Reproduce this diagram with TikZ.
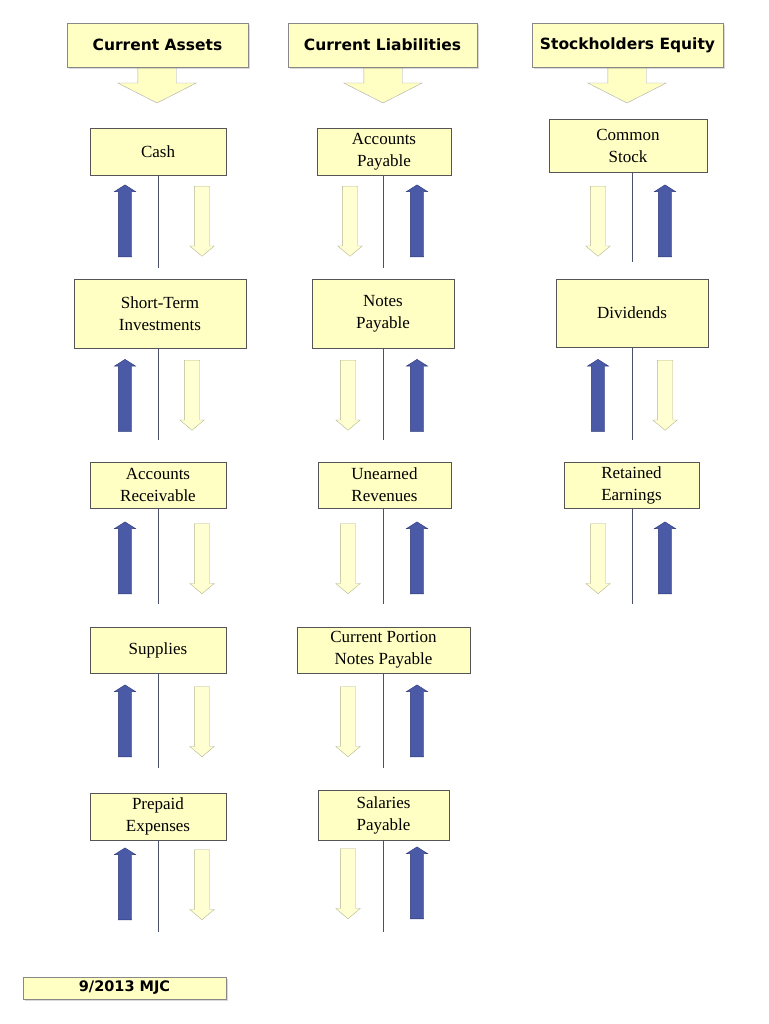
\documentclass[tikz,border=0pt]{standalone}
\usepackage{fontspec}
\setmainfont{Liberation Serif}
\newfontfamily\headfont{DejaVu Sans}
\usetikzlibrary{positioning, shapes.arrows, shadows}

\definecolor{boxfill}{HTML}{FFFFC4}
\definecolor{boxline}{HTML}{555555}
\definecolor{upfill}{HTML}{4A5AA6}
\definecolor{upline}{HTML}{2C3878}
\definecolor{dnfill}{HTML}{FFFFD2}
\definecolor{dnline}{HTML}{B4B48C}
\definecolor{divline}{HTML}{4A5068}

\tikzset{
  acct/.style={draw=boxline, fill=boxfill, align=center, inner sep=0pt,
    font=\fontsize{17}{22}\selectfont},
  head/.style={draw=boxline!70, fill=boxfill, inner sep=0pt,
    font=\headfont\bfseries\fontsize{15.5}{18}\selectfont,
    drop shadow={shadow xshift=2pt, shadow yshift=-2pt, opacity=0.3}},
  headarr/.style={single arrow, draw=boxline!50, fill=boxfill, inner sep=19pt,
    single arrow head extend=20pt, single arrow tip angle=126,
    shape border rotate=270, minimum height=46pt},
  uparr/.style={single arrow, draw=upline, fill=upfill, inner sep=6.5pt,
    single arrow head extend=4pt, single arrow tip angle=115,
    shape border rotate=90, minimum height=72pt},
  dnarr/.style={single arrow, draw=dnline, fill=dnfill, inner sep=7.5pt,
    single arrow head extend=4.5pt, single arrow tip angle=100,
    shape border rotate=270, minimum height=70pt},
  split/.style={draw=divline, line width=0.8pt}
}

\begin{document}
\begin{tikzpicture}[x=1pt, y=-1pt]
\useasboundingbox (0,0) rectangle (768,1024);

% column headings
\node[headarr] (caarr) at (157,74) {};
\node[headarr] (clarr) at (383,74) {};
\node[headarr] (searr) at (627,74) {};
\node[head, minimum width=181pt, minimum height=44pt] (ca) at (157.5,45) {Current Assets};
\node[head, minimum width=189pt, minimum height=44pt] (cl) at (382.5,45) {Current Liabilities};
\node[head, minimum width=191pt, minimum height=44pt] (se) at (627.5,45) {Stockholders Equity};

% current assets
\node[acct, minimum width=136pt, minimum height=47pt] (cash) at (158,151.5) {Cash};
\node[acct, minimum width=172pt, minimum height=69pt] (sti) at (160,313.5) {Short-Term\\Investments};
\node[acct, minimum width=136pt, minimum height=46pt] (ar) at (158,485) {Accounts\\Receivable};
\node[acct, minimum width=136pt, minimum height=46pt] (sup) at (158,650) {Supplies};
\node[acct, minimum width=136pt, minimum height=47pt] (pre) at (158,816.5) {Prepaid\\Expenses};

\coordinate (cashend) at (158,268);
\coordinate (stiend) at (158,440);
\coordinate (arend) at (158,604);
\coordinate (supend) at (158,768);
\coordinate (preend) at (158,932);
\draw[split] (cash.south) -- (cashend);
\draw[split] (sti.south -| stiend) -- (stiend);
\draw[split] (ar.south) -- (arend);
\draw[split] (sup.south) -- (supend);
\draw[split] (pre.south) -- (preend);

\node[uparr] (cashup) at (125,223) {};
\node[dnarr] (cashdn) at (202,218) {};
\node[uparr] (stiup) at (125,397.5) {};
\node[dnarr] (stidn) at (192,392) {};
\node[uparr] (arup) at (125,560) {};
\node[dnarr] (ardn) at (202,555.5) {};
\node[uparr] (supup) at (125,723) {};
\node[dnarr] (supdn) at (202,718.5) {};
\node[uparr] (preup) at (125,886) {};
\node[dnarr] (predn) at (202,881.5) {};

% current liabilities
\node[acct, minimum width=134pt, minimum height=47pt] (ap) at (384,151.5) {Accounts\\Payable};
\node[acct, minimum width=142pt, minimum height=69pt] (np) at (383,313.5) {Notes\\Payable};
\node[acct, minimum width=133pt, minimum height=46pt] (ur) at (384.5,485) {Unearned\\Revenues};
\node[acct, minimum width=173pt, minimum height=46pt] (cpnp) at (383.5,650) {Current Portion\\Notes Payable};
\node[acct, minimum width=131pt, minimum height=50pt] (sal) at (383.5,815) {Salaries\\Payable};

\coordinate (apend) at (383,268);
\coordinate (npend) at (383,440);
\coordinate (urend) at (383,604);
\coordinate (cpnpend) at (383,768);
\coordinate (salend) at (383,932);
\draw[split] (ap.south -| apend) -- (apend);
\draw[split] (np.south) -- (npend);
\draw[split] (ur.south -| urend) -- (urend);
\draw[split] (cpnp.south -| cpnpend) -- (cpnpend);
\draw[split] (sal.south -| salend) -- (salend);

\node[dnarr] (apdn) at (350,218) {};
\node[uparr] (apup) at (417,223) {};
\node[dnarr] (npdn) at (348,392) {};
\node[uparr] (npup) at (417,397.5) {};
\node[dnarr] (urdn) at (348,555.5) {};
\node[uparr] (urup) at (417,560) {};
\node[dnarr] (cpnpdn) at (348,718.5) {};
\node[uparr] (cpnpup) at (417,723) {};
\node[dnarr] (saldn) at (348,880.5) {};
\node[uparr] (salup) at (417,885) {};

% stockholders equity
\node[acct, minimum width=158pt, minimum height=53pt] (cs) at (628,145.5) {Common\\Stock};
\node[acct, minimum width=152pt, minimum height=68pt] (div) at (632,313) {Dividends};
\node[acct, minimum width=135pt, minimum height=46pt] (re) at (631.5,485) {Retained\\Earnings};

\coordinate (csend) at (632,262);
\coordinate (divend) at (632,440);
\coordinate (reend) at (632,604);
\draw[split] (cs.south -| csend) -- (csend);
\draw[split] (div.south) -- (divend);
\draw[split] (re.south -| reend) -- (reend);

\node[dnarr] (csdn) at (598,218) {};
\node[uparr] (csup) at (665,223) {};
\node[uparr] (divup) at (598,397.5) {};
\node[dnarr] (divdn) at (665,392) {};
\node[dnarr] (redn) at (598,555.5) {};
\node[uparr] (reup) at (665,560) {};

% footer
\node[head, minimum width=203pt, minimum height=22pt,
  font=\headfont\bfseries\fontsize{14.5}{16}\selectfont] (sign) at (124.5,988) {9/2013 MJC};
\end{tikzpicture}
\end{document}
